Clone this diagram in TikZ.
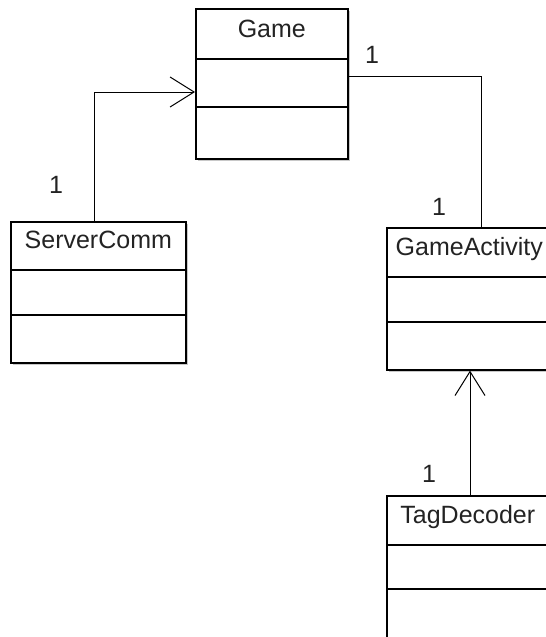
\documentclass[tikz,border=0pt]{standalone}
\usepackage{fontspec}
\setmainfont{Liberation Sans}
\usetikzlibrary{arrows.meta,positioning,calc,shadows}
\definecolor{umlline}  {RGB}{0,0,0}
\definecolor{umltext}  {RGB}{35,35,35}
\definecolor{umlshadow}{RGB}{200,200,200}
\tikzset{
  classbox/.style ={draw=umlline, line width=1.6pt, fill=white,
                    anchor=north west, inner sep=0pt,
                    drop shadow={shadow xshift=2pt, shadow yshift=-2pt,
                                 fill=umlshadow, opacity=1}},
  classname/.style={font=\fontsize{25}{30}\selectfont, text=umltext,
                    anchor=base, inner sep=0pt},
  mult/.style     ={classname},
  divider/.style  ={draw=umlline, line width=1.6pt},
  assoc/.style    ={draw=umlline, line width=1pt},
  navarr/.style   ={assoc, -{Straight Barb[length=24pt, width=30pt]}},
}

\begin{document}
\begin{tikzpicture}[x=1pt,y=-1pt]
  \useasboundingbox (0,0) rectangle (546,637);
  % classes
  \node[classbox, minimum width=152pt, minimum height=150pt] (game)     at (195,8)   {};
  \node[classbox, minimum width=175pt, minimum height=141pt] (server)   at (10,221)  {};
  \node[classbox, minimum width=165pt, minimum height=142pt] (activity) at (386,227) {};
  \node[classbox, minimum width=162pt, minimum height=160pt] (decoder)  at (386,495) {};
  \node[classname] (gamename)     at ($(game.north)+(0,29)$)     {Game};
  \node[classname] (servername)   at ($(server.north)+(0,27)$)   {ServerComm};
  \node[classname] (activityname) at ($(activity.north)+(0,28)$) {GameActivity};
  \node[classname] (decodername)  at ($(decoder.north)+(0,28)$)  {TagDecoder};
  \draw[divider] ($(game.north west)+(0,51)$) -- ($(game.north east)+(0,51)$);
  \draw[divider] ($(game.north west)+(0,99)$) -- ($(game.north east)+(0,99)$);
  \draw[divider] ($(server.north west)+(0,49)$) -- ($(server.north east)+(0,49)$);
  \draw[divider] ($(server.north west)+(0,94)$) -- ($(server.north east)+(0,94)$);
  \draw[divider] ($(activity.north west)+(0,50)$) -- ($(activity.north east)+(0,50)$);
  \draw[divider] ($(activity.north west)+(0,95)$) -- ($(activity.north east)+(0,95)$);
  \draw[divider] ($(decoder.north west)+(0,50)$) -- ($(decoder.north east)+(0,50)$);
  \draw[divider] ($(decoder.north west)+(0,94)$) -- ($(decoder.north east)+(0,94)$);
  % associations
  \draw[navarr] ($(server.north west)+(84,0)$) |- ($(game.north west)+(0,84)$);
  \draw[assoc] ($(game.north east)+(0,68)$) -| ($(activity.north west)+(95,0)$);
  \draw[navarr] ($(decoder.north west)+(84,0)$) -- ($(activity.south west)+(84,0)$);
  % multiplicities
  \node[mult] (m1) at (56,193)  {1};
  \node[mult] (m2) at (372,63)  {1};
  \node[mult] (m3) at (439,215) {1};
  \node[mult] (m4) at (429,482) {1};
\end{tikzpicture}
\end{document}
